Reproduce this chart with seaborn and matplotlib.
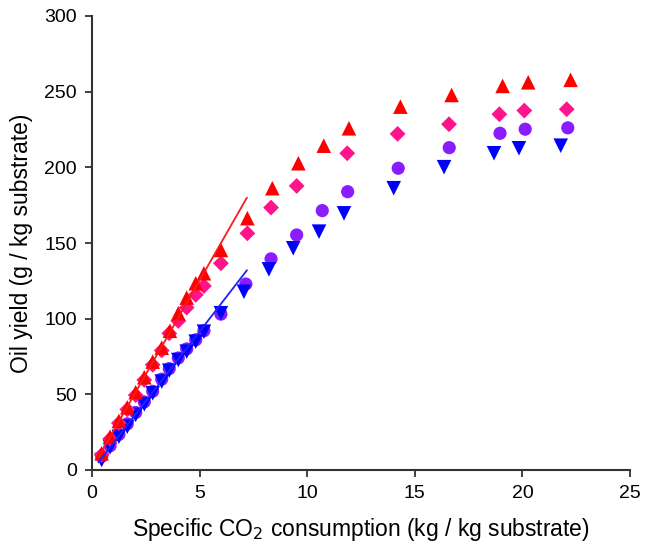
import numpy as np
import pandas as pd
import seaborn as sns
import matplotlib
matplotlib.use("Agg")
import matplotlib.pyplot as plt

# specific CO2 consumption (kg / kg substrate) and oil yield (g / kg substrate)
x_up = [0.45, 0.84, 1.25, 1.64, 2.03, 2.43, 2.82, 3.24, 3.62, 4.01, 4.40, 4.82, 5.20, 5.99, 7.22,
        8.38, 9.59, 10.77, 11.94, 14.33, 16.71, 19.08, 20.27, 22.24]
tri_up_y = [11.0, 22.0, 32.4, 41.4, 51.4, 61.3, 71.6, 80.8, 92.0, 103.6, 113.9, 123.4, 130.0, 145.4, 166.4,
            186.2, 202.7, 214.3, 225.8, 240.1, 247.8, 253.8, 256.2, 257.8]
x_diam = [0.45, 0.84, 1.25, 1.64, 2.03, 2.43, 2.82, 3.24, 3.59, 4.01, 4.40, 4.82, 5.20, 5.99, 7.22,
          8.32, 9.51, 11.86, 14.20, 16.59, 18.93, 20.09, 22.06]
diam_y = [10.0, 20.5, 31.0, 40.0, 49.5, 59.5, 69.5, 79.0, 90.3, 98.5, 107.3, 115.7, 121.6, 136.6, 156.4,
          173.4, 187.7, 209.3, 222.1, 228.5, 235.1, 237.5, 238.4]

x_down = [0.45, 0.84, 1.25, 1.64, 2.03, 2.43, 2.82, 3.24, 3.59, 4.01, 4.40, 4.82, 5.20, 5.99, 7.06,
          8.22, 9.35, 10.55, 11.71, 14.02, 16.36, 18.68, 19.84, 21.78]
tri_down_y = [6.6, 15.0, 22.0, 28.6, 36.4, 43.4, 50.7, 58.4, 65.6, 72.7, 78.2, 84.8, 91.4, 103.6, 117.8,
              132.6, 146.5, 157.5, 169.6, 186.2, 200.1, 209.3, 212.6, 214.3]
x_circ = [0.45, 0.84, 1.25, 1.64, 2.03, 2.43, 2.82, 3.24, 3.59, 4.01, 4.40, 4.82, 5.20, 5.99, 7.15,
          8.32, 9.51, 10.70, 11.88, 14.23, 16.60, 18.96, 20.13, 22.11]
circ_y = [9.0, 16.0, 23.5, 30.5, 38.0, 45.0, 52.0, 60.0, 67.0, 74.0, 80.0, 86.0, 92.0, 103.0, 122.9,
          139.5, 155.3, 171.4, 183.9, 199.4, 213.0, 222.5, 225.2, 226.1]

# initial-slope lines
fit_x = [0.3, 7.2]
red_fit_y = [8.5, 180.0]
blue_fit_y = [5.0, 132.0]

sns.set_style("ticks")
plt.rcParams['font.family'] = ['Liberation Sans', 'DejaVu Sans']
plt.rcParams['text.color'] = 'black'
plt.rcParams['axes.labelcolor'] = 'black'
plt.rcParams['xtick.labelcolor'] = 'black'
plt.rcParams['ytick.labelcolor'] = 'black'

fig = plt.figure(figsize=(6.46, 5.48), dpi=100)
ax = fig.add_axes([92/646, 78/548, 538/646, 454/548])

sns.lineplot(x=fit_x, y=red_fit_y, color='#ff1a1a', lw=1.3, ax=ax)
sns.lineplot(x=fit_x, y=blue_fit_y, color='#2020ff', lw=1.3, ax=ax)

sns.scatterplot(x=x_circ, y=circ_y, marker='o', s=90, color='#8a1cff', edgecolor='none', ax=ax)
sns.scatterplot(x=x_down, y=tri_down_y, marker='v', s=110, color='#0000ff', edgecolor='none', ax=ax)
sns.scatterplot(x=x_diam, y=diam_y, marker='D', s=65, color='#ff1489', edgecolor='none', ax=ax)
sns.scatterplot(x=x_up, y=tri_up_y, marker='^', s=110, color='#ff0000', edgecolor='none', ax=ax)

ax.set_xlim(0, 25)
ax.set_ylim(0, 300)
ax.set_xticks(np.arange(0, 26, 5))
ax.set_yticks(np.arange(0, 301, 50))
for s in ['top', 'right']:
    ax.spines[s].set_visible(False)
for s in ['left', 'bottom']:
    ax.spines[s].set_color('#333333')
    ax.spines[s].set_linewidth(1.5)
ax.tick_params(direction='out', length=5, width=1.3, color='#333333', labelsize=14, pad=6)

ax.set_xlabel('Specific CO$_2$ consumption (kg / kg substrate)', fontsize=16.5, labelpad=10)
ax.set_ylabel('Oil yield (g / kg substrate)', fontsize=16.5, labelpad=8)

fig.savefig('out.png', dpi=100)
